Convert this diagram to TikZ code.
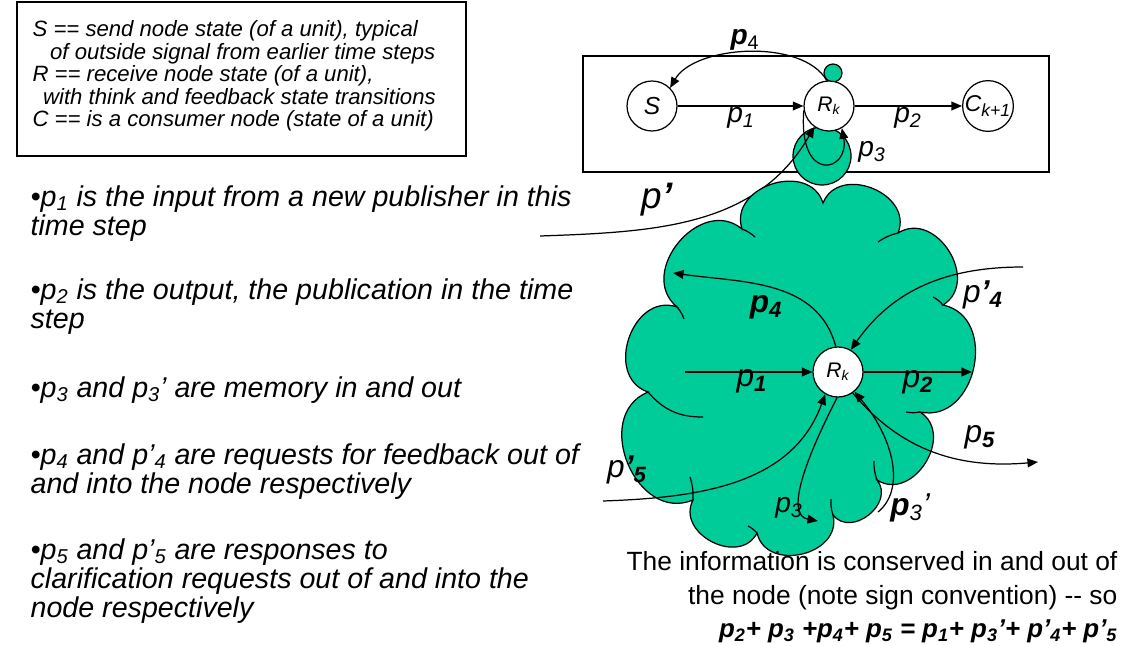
\documentclass[tikz,border=0pt]{standalone}
\usepackage{fontspec}
\setmainfont{Liberation Sans}
\usetikzlibrary{arrows.meta}
\definecolor{blobgreen}{RGB}{0,204,153}
\newcommand{\sbs}[1]{\textsubscript{#1}}

\begin{document}
\begin{tikzpicture}[x=0.02cm, y=-0.02cm, line width=0.7pt,
  flow/.style={-{Triangle[length=6pt,width=5pt]}},
  unit/.style={circle, draw, fill=white, inner sep=0pt, minimum size=1cm, font=\itshape\fontsize{12}{14}\selectfont},
  blob/.style={fill=blobgreen, draw},
  lbl/.style={inner sep=0pt, font=\itshape\fontsize{16}{18}\selectfont},
  biglbl/.style={inner sep=0pt, font=\itshape\fontsize{18}{20}\selectfont},
  bullet/.style={anchor=north west, align=left, inner sep=0pt, font=\itshape\fontsize{16.3}{16.6}\selectfont}]
  \useasboundingbox (0,0) rectangle (1124,645);
	% legend box
	\draw (17,2) rectangle (466,156);
	\node[anchor=north west, align=left, inner sep=0pt, font=\itshape\fontsize{12.6}{12.8}\selectfont] (legend) at (32,20)
	  {S == send node state (of a unit), typical\\
	   \hspace*{10pt}of outside signal from earlier time steps\\
	   R == receive node state (of a unit),\\
	   \hspace*{6pt}with think and feedback state transitions\\
	   C == is a consumer node (state of a unit)};
	% bullets
	\node[bullet] (b1) at (30,185) {•\textit{p}\sbs{1} is the input from a new publisher in this\\time step};
	\node[bullet] (b2) at (30,278) {•\textit{p}\sbs{2} is the output, the publication in the time\\step};
	\node[bullet] (b3) at (30,376) {•\textit{p}\sbs{3} and \textit{p}\sbs{3}’ are memory in and out};
	\node[bullet] (b4) at (30,443) {•\textit{p}\sbs{4} and \textit{p}’\sbs{4} are requests for feedback out of\\and into the node respectively};
	\node[bullet] (b5) at (30,538) {•\textit{p}\sbs{5} and \textit{p}’\sbs{5} are responses to\\clarification requests out of and into the\\node respectively};
	% one time step
	\draw (583,56) rectangle (1049,172);
	\filldraw[blob] (833,73) circle[radius=0.18cm];
	\filldraw[blob] (822,156) circle[radius=0.58cm];
	\node[unit, font=\itshape\fontsize{14}{16}\selectfont] (S) at (652,106) {S};
	\node[unit] (Rk) at (829,106) {R\sbs{k}};
	\node[unit, minimum size=0.94cm, font=\itshape\fontsize{13}{14}\selectfont] (C) at (988,106) {C\sbs{\fontsize{10}{11}\selectfont k+1}};
	\coordinate (pin) at (540,236);
	\draw[flow] (S) -- (Rk);
	\draw[flow] (Rk) -- (C);
	\draw[flow] (Rk.95) to[out=120, in=60, looseness=0.8] (S.45);
	\draw[flow] (pin) to[out=2, in=240] (Rk.235);
	\draw[flow] (Rk.190) .. controls (798,185) and (850,172) .. (Rk.300);
	\node[lbl] (l1) at (741,118) {p\sbs{1}};
	\node[lbl] (l2) at (908,118) {p\sbs{2}};
	\node[lbl] (l3) at (872,152) {p\sbs{3}};
	\node[lbl] (l4) at (745,40) {\textbf{p}\sbs{\upshape 4}};
	\node[inner sep=0pt, font=\itshape\fontsize{21}{24}\selectfont] (lp) at (657,200) {p\textbf{’}};
	% the cloud round the node
	\filldraw[blob, bend left=90, looseness=1.35]
	  (823,203) to (898,233) to (943,305) to (920,412) to (877,480) to (833,515)
	  to (757,533) to (693,500) to (648,392) to (677,307) to (742,229) to (823,203) -- cycle;
	\draw (742,229) to[bend left=10] (755,237);
	\draw (898,233) to[bend right=10] (878,242);
	\draw (943,305) to[bend right=10] (933,297);
	\draw (920,412) to[bend left=10] (906,412);
	\draw (877,480) to[bend left=10] (874,461);
	\draw (833,515) to[bend left=10] (831,499);
	\draw (757,533) to[bend right=10] (748,526);
	\draw (693,500) to[bend right=10] (690,477);
	\draw (648,392) to[bend right=25] (703,417);
	\draw (677,307) to[bend left=10] (684,319);
	\node[unit] (Rk2) at (838,372) {R\sbs{k}};
	\coordinate (in1) at (685,372);
	\coordinate (out2) at (972,372);
	\coordinate (p4end) at (673,273);
	\coordinate (p4in) at (1023,267);
	\coordinate (p5in) at (603,501);
	\coordinate (p5out) at (1038,462);
	\coordinate (p3end) at (818,521);
	\coordinate (p3in) at (878,512);
	\draw[flow] (in1) -- (Rk2);
	\draw[flow] (Rk2) -- (out2);
	\draw[flow] (Rk2.95) to[out=105, in=-8] (p4end);
	\draw[flow] (p4in) to[out=180, in=55] (Rk2.60);
	\draw[flow] (p5in) to[out=2, in=250] (Rk2.240);
	\draw[flow] (Rk2.305) to[out=-50, in=185] (p5out);
	\draw[flow] (Rk2.268) .. controls (805,460) and (785,515) .. (p3end);
	\draw[flow] (p3in) .. controls (905,490) and (895,440) .. (Rk2.310);
	\node[biglbl] (c1) at (752,381) {p\sbs{\bfseries 1}};
	\node[biglbl] (c2) at (918,382) {p\sbs{\bfseries 2}};
	\node[biglbl, font=\bfseries\itshape\fontsize{18}{20}\selectfont] (c4) at (766,307) {p\sbs{4}};
	\node[biglbl] (c4p) at (983,295) {p\textbf{’}\sbs{\bfseries 4}};
	\node[biglbl] (c5) at (980,437) {p\sbs{\bfseries 5}};
	\node[biglbl] (c5p) at (627,470) {p\textbf{’}\sbs{\bfseries 5}};
	\node[lbl] (c3) at (789,508) {p\sbs{3}};
	\node[biglbl] (c3p) at (910,508) {\textbf{p}\sbs{3}’};
	% conservation note
	\node[anchor=north east, align=right, inner sep=0pt, font=\fontsize{15}{19.5}\selectfont] (cons) at (1118,551)
	  {The information is conserved in and out of\\the node (note sign convention) {-}{-} so};
	\node[anchor=north east, inner sep=0pt, font=\bfseries\itshape\fontsize{14.7}{16}\selectfont] (eq) at (1118,619)
	  {p\sbs{2}+ p\sbs{3} +p\sbs{4}+ p\sbs{5} = p\sbs{1}+ p\sbs{3}’+ p’\sbs{4}+ p’\sbs{5}};
\end{tikzpicture}
\end{document}
